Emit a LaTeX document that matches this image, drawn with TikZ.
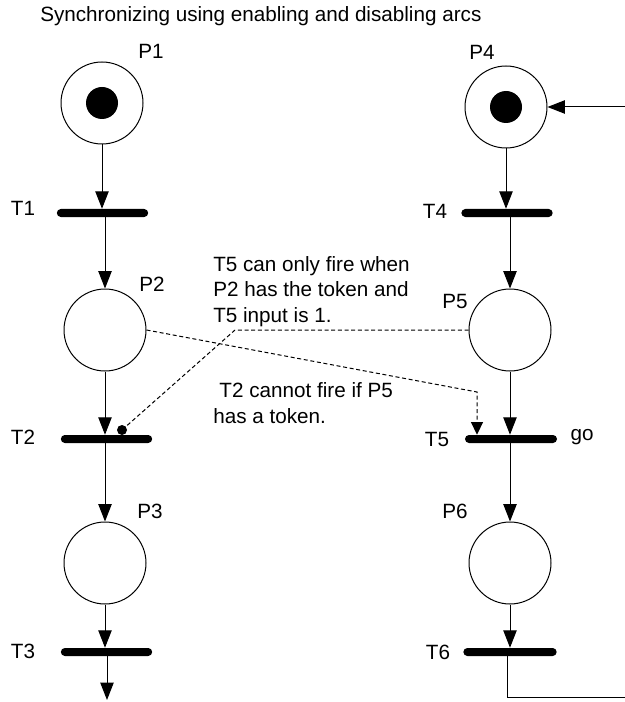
\documentclass[tikz,border=0pt]{standalone}
\usepackage{fontspec}
\setmainfont{Liberation Sans}
\usetikzlibrary{arrows.meta}
\begin{document}
\begin{tikzpicture}[x=0.75pt,y=-0.75pt,
  every node/.style={font=\fontsize{15.5}{19.1}\selectfont},
  place/.style={circle,draw,line width=0.75pt,minimum size=61.5pt,inner sep=0pt},
  token/.style={circle,fill=black,minimum size=24pt,inner sep=0pt},
  trans/.style={fill=black,rounded corners=3pt,minimum height=6pt,inner sep=0pt,minimum width=#1},
  trans/.default=68.5pt,
  lbl/.style={inner sep=0pt},
  note/.style={anchor=base west,align=left,inner sep=0pt},
  arc/.style={line width=0.75pt,-{Triangle[length=13pt,width=10pt]}},
  ctl/.style={line width=0.75pt,dash pattern=on 3pt off 2pt},
  ctlarrow/.style={ctl,-{Triangle[length=9.5pt,width=9pt]}},
  enabler/.style={circle,fill=black,minimum size=7.5pt,inner sep=0pt}]
\useasboundingbox (0,0) rectangle (624,702);

% title
\node[anchor=base west,inner sep=0pt] (title) at (40,22) {Synchronizing using enabling and disabling arcs};

% left net: P1 -> T1 -> P2 -> T2 -> P3 -> T3
\node[place] (P1) at (102,103) {};
\node[token] at (P1) {};
\node[trans] (T1) at (102.5,213) {};
\node[place] (P2) at (105,330) {};
\node[trans] (T2) at (106.5,439) {};
\node[place] (P3) at (105,563) {};
\node[trans] (T3) at (106.5,652) {};
\coordinate (out3) at (107,700);

% right net: P4 -> T4 -> P5 -> T5 -> P6 -> T6 -> back to P4
\node[place] (P4) at (506,107) {};
\node[token] at (P4) {};
\node[trans] (T4) at (507,213) {};
\node[place] (P5) at (510,330) {};
\node[trans=69pt] (T5) at (511,439) {};
\node[place] (P6) at (510,563) {};
\node[trans=70pt] (T6) at (510,652) {};

% labels
\node[lbl] at (151,51) {P1};
\node[lbl] at (482,52) {P4};
\node[lbl] at (152,284) {P2};
\node[lbl] at (455,301) {P5};
\node[lbl] at (150,511) {P3};
\node[lbl] at (455,511) {P6};
\node[lbl] at (23,208) {T1};
\node[lbl] at (23,437) {T2};
\node[lbl] at (23,651) {T3};
\node[lbl] at (435,211) {T4};
\node[lbl] at (437,439) {T5};
\node[lbl] at (438,652) {T6};
\node[lbl] at (582,437) {go};

% ordinary arcs, left
\draw[arc] (P1.south) -- (P1.south |- T1.north);
\draw[arc] (P2.north |- T1.center) -- (P2.north);
\draw[arc] (P2.south) -- (P2.south |- T2.north);
\draw[arc] (P3.north |- T2.center) -- (P3.north);
\draw[arc] (P3.south) -- (P3.south |- T3.north);
\draw[arc] (out3 |- T3.center) -- (out3);

% ordinary arcs, right
\draw[arc] (P4.south) -- (P4.south |- T4.north);
\draw[arc] (P5.north |- T4.center) -- (P5.north);
\draw[arc] (P5.south) -- (P5.south |- T5.north);
\draw[arc] (P6.north |- T5.center) -- (P6.north);
\draw[arc] (P6.south) -- (P6.south |- T6.north);
\coordinate (r1) at (507,697);
\coordinate (r2) at (630,697);
\coordinate (r3) at (630,107);
\draw[arc] (r1 |- T6.center) -- (r1) -- (r2) -- (r3) -- (P4.east);

% control arcs between the two nets
\node[enabler] (en) at (122,430) {};
\coordinate (k1) at (477,392);
\coordinate (k2) at (235,330);
\draw[ctlarrow] (P2.east) -- (k1) -- (k1 |- T5.north);
\draw[ctl] (P5.west) -- (k2) -- (en);

% notes (base anchor sits on the last line)
\node[note] (note1) at (213,322)
  {T5 can only fire when\\P2 has the token and\\T5 input is 1.};
\node[note] (note2) at (213,423)
  {\hspace{0.3em}T2 cannot fire if P5\\has a token.};
\end{tikzpicture}
\end{document}
